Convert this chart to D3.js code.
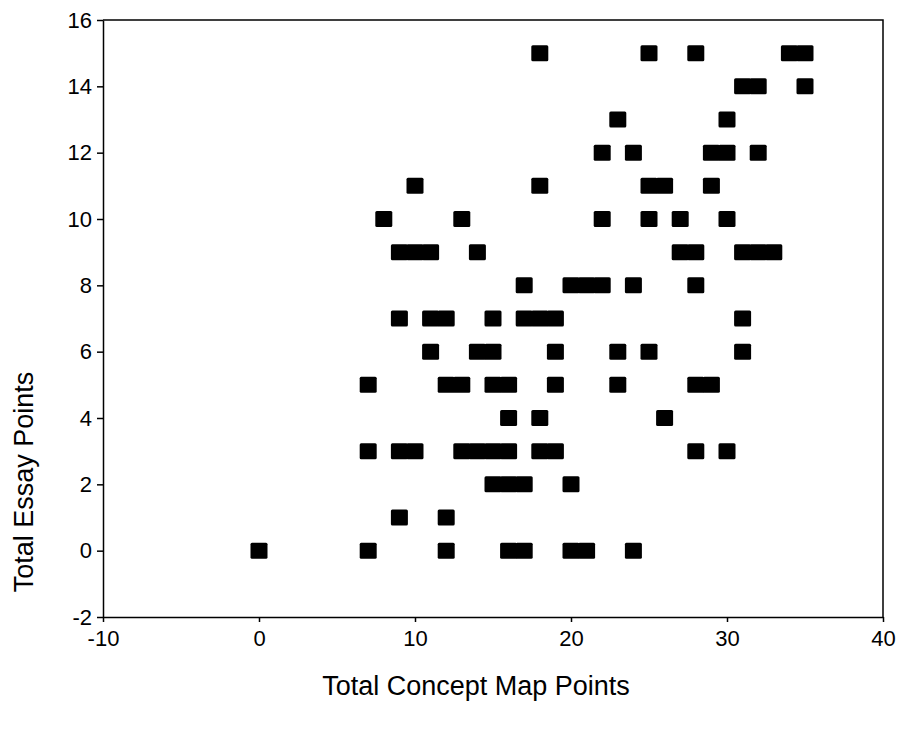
<!DOCTYPE html>
<html>
<head>
<meta charset="utf-8">
<script src="https://cdn.jsdelivr.net/npm/d3@7"></script>
<style>
  body { margin: 0; background: #fff; }
  svg { display: block; }
</style>
</head>
<body>
<svg id="chart" width="900" height="732"></svg>
<script>
// Total Concept Map Points (x) paired with Total Essay Points (y), grouped by essay score
const conceptPoints = [
  18, 25, 28, 34, 35,
  31, 32, 35,
  23, 30,
  22, 24, 29, 30, 32,
  10, 18, 25, 26, 29,
  8, 13, 22, 25, 27, 30,
  9, 10, 11, 14, 27, 28, 31, 32, 33,
  17, 20, 21, 22, 24, 28,
  9, 11, 12, 15, 17, 18, 19, 31,
  11, 14, 15, 19, 23, 25, 31,
  7, 12, 13, 15, 16, 19, 23, 28, 29,
  16, 18, 26,
  7, 9, 10, 13, 14, 15, 16, 18, 19, 28, 30,
  15, 16, 17, 20,
  9, 12,
  0, 7, 12, 16, 17, 20, 21, 24
];
const essayPoints = [
  15, 15, 15, 15, 15,
  14, 14, 14,
  13, 13,
  12, 12, 12, 12, 12,
  11, 11, 11, 11, 11,
  10, 10, 10, 10, 10, 10,
  9, 9, 9, 9, 9, 9, 9, 9, 9,
  8, 8, 8, 8, 8, 8,
  7, 7, 7, 7, 7, 7, 7, 7,
  6, 6, 6, 6, 6, 6, 6,
  5, 5, 5, 5, 5, 5, 5, 5, 5,
  4, 4, 4,
  3, 3, 3, 3, 3, 3, 3, 3, 3, 3, 3,
  2, 2, 2, 2,
  1, 1,
  0, 0, 0, 0, 0, 0, 0, 0
];
const xTicks = [-10, 0, 10, 20, 30, 40];
const yTicks = [-2, 0, 2, 4, 6, 8, 10, 12, 14, 16];

const svg = d3.select('#chart');
const margin = { top: 20, right: 17, bottom: 115, left: 103 };
const width = 900, height = 732;
const innerWidth = width - margin.left - margin.right;
const innerHeight = height - margin.top - margin.bottom;
const font = 'Arial, "Liberation Sans", sans-serif';

const xScale = d3.scaleLinear().domain([-10, 40]).range([0, innerWidth]);
const yScale = d3.scaleLinear().domain([-2, 16]).range([innerHeight, 0]);

const g = svg.append('g').attr('transform', `translate(${margin.left},${margin.top})`);

// Frame (top and right edges)
g.append('path')
  .attr('d', `M0,0H${innerWidth}V${innerHeight}`)
  .attr('fill', 'none')
  .attr('stroke', '#000')
  .attr('stroke-width', 1.5);

// X axis
g.append('g')
  .attr('transform', `translate(0,${innerHeight})`)
  .call(d3.axisBottom(xScale).tickValues(xTicks).tickFormat(d => String(d))
    .tickSize(5).tickSizeOuter(0).tickPadding(8))
  .call(ax => ax.select('.domain').attr('stroke-width', 1.5))
  .call(ax => ax.selectAll('line').attr('stroke-width', 1.5))
  .call(ax => ax.selectAll('text')
    .style('font-size', '22px')
    .style('font-family', font)
    .style('fill', '#000'));

// Y axis
g.append('g')
  .call(d3.axisLeft(yScale).tickValues(yTicks).tickFormat(d => String(d))
    .tickSize(6).tickSizeOuter(0).tickPadding(5))
  .call(ax => ax.select('.domain').attr('stroke-width', 1.5))
  .call(ax => ax.selectAll('line').attr('stroke-width', 1.5))
  .call(ax => ax.selectAll('text')
    .style('font-size', '22px')
    .style('font-family', font)
    .style('fill', '#000'));

// Axis labels
g.append('text')
  .attr('x', 476 - margin.left)
  .attr('y', 695 - margin.top)
  .attr('text-anchor', 'middle')
  .style('font-size', '27px')
  .style('font-family', font)
  .style('fill', '#000')
  .text('Total Concept Map Points');

g.append('text')
  .attr('transform', 'rotate(-90)')
  .attr('x', -(482 - margin.top))
  .attr('y', 33 - margin.left)
  .attr('text-anchor', 'middle')
  .style('font-size', '27px')
  .style('font-family', font)
  .style('fill', '#000')
  .text('Total Essay Points');

// Square markers (adjacent values merge into bars, as in the original)
const w = 17, h = 16;
g.append('g')
  .selectAll('rect')
  .data(d3.range(conceptPoints.length))
  .join('rect')
  .attr('x', i => xScale(conceptPoints[i]) - w / 2)
  .attr('y', i => yScale(essayPoints[i]) - h / 2)
  .attr('width', w)
  .attr('height', h)
  .attr('rx', 1.5)
  .attr('fill', '#000');
</script>
</body>
</html>
